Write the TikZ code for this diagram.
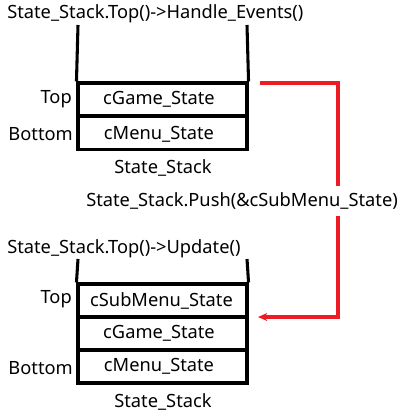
\documentclass[tikz,border=0pt]{standalone}
\usepackage{fontspec}
\setmainfont{Noto Sans}
\usetikzlibrary{arrows.meta}
\definecolor{redc}{RGB}{237,28,36}
\begin{document}
\begin{tikzpicture}[x=0.75pt,y=-0.75pt,
  txt/.style={inner sep=0pt,font=\fontsize{13.7pt}{15pt}\selectfont},
  cell/.style={draw,line width=2.3pt,minimum width=126.75pt,minimum height=24.75pt,inner sep=0pt},
  wall/.style={line width=2.3pt},
  redline/.style={draw=redc,line width=2.3pt},
  ]
\useasboundingbox (0,0) rectangle (417,415);
% top stack
\node[txt,anchor=base west] (t1) at (7,18.5) {State\_Stack.Top()->Handle\_Events()};
\node[cell] (a1) at (162.5,99.5) {};
\node[cell] (a2) at (162.5,133) {};
\node[txt,anchor=base] at (159,104) {cGame\_State};
\node[txt,anchor=base] at (159,139.5) {cMenu\_State};
\node[txt,anchor=base east] (top1) at (72,103) {Top};
\node[txt,anchor=base east] (bot1) at (73,140.5) {Bottom};
\node[txt,anchor=base] (s1) at (163,173.5) {State\_Stack};
\coordinate (w1l) at (78,25);
\coordinate (w1r) at (247,25);
\draw[wall] (w1l) -- (a1.north west);
\draw[wall] (w1r) -- (a1.north east);
% push text
\node[txt,anchor=base west] (push) at (86,206) {State\_Stack.Push(\&cSubMenu\_State)};
% bottom stack
\node[txt,anchor=base west] (t2) at (7,253) {State\_Stack.Top()->Update()};
\node[cell] (b1) at (162.5,300.5) {};
\node[cell] (b2) at (162.5,333.5) {};
\node[cell] (b3) at (162.5,366.5) {};
\node[txt,anchor=base] at (161.5,306.5) {cSubMenu\_State};
\node[txt,anchor=base] at (159,338.5) {cGame\_State};
\node[txt,anchor=base] at (159,371.5) {cMenu\_State};
\node[txt,anchor=base east] (top2) at (72,303) {Top};
\node[txt,anchor=base east] (bot2) at (73,374) {Bottom};
\node[txt,anchor=base] (s2) at (163,407) {State\_Stack};
\coordinate (w2l) at (78,259);
\coordinate (w2r) at (247,259);
\draw[wall] (w2l) -- (b1.north west);
\draw[wall] (w2r) -- (b1.north east);
% red connector
\coordinate (r1) at (260,83);
\coordinate (r2) at (338,186);
\coordinate (r3) at (338,216);
\coordinate (r4) at (258,317);
\draw[redline] (r1) -| (r2);
\draw[redline,-{Stealth[length=7pt,width=6pt]}] (r3) |- (r4);
\end{tikzpicture}
\end{document}
